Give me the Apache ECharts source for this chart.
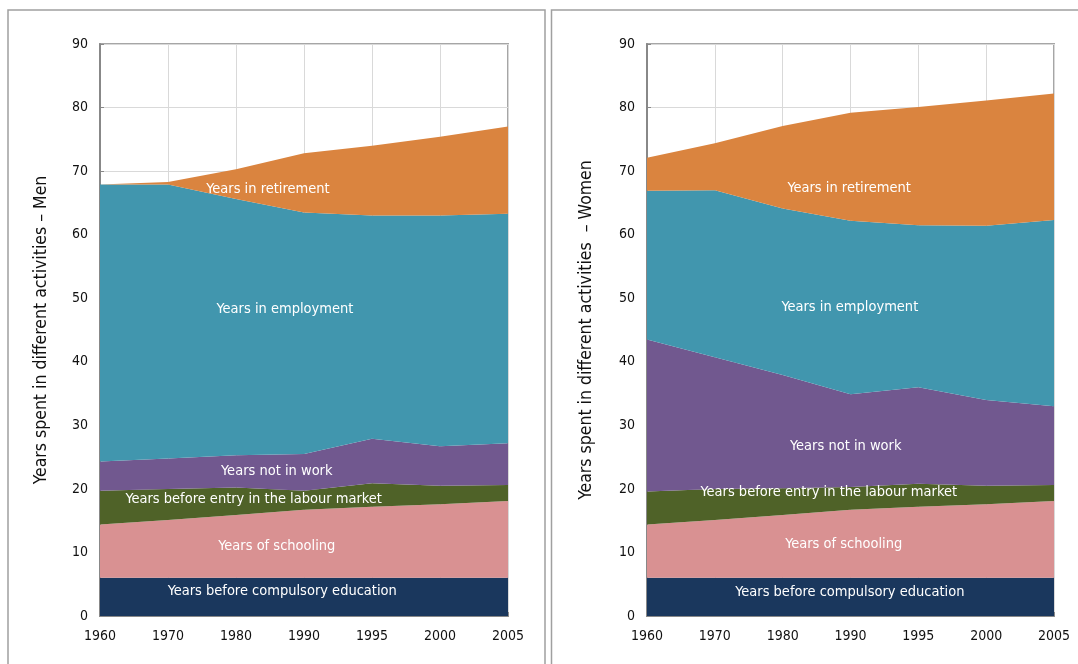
<!DOCTYPE html>
<html><head><meta charset="utf-8">
<script src="https://cdn.jsdelivr.net/npm/echarts@6/dist/echarts.min.js"></script>
<style>html,body{margin:0;padding:0;background:#fff}#c{width:1078px;height:664px}</style>
</head><body><div id="c"></div>
<script>
// ---- data ----
const years = ['1960','1970','1980','1990','1995','2000','2005'];
const seriesNames = ['Years before compulsory education','Years of schooling','Years before entry in the labour market','Years not in work','Years in employment','Years in retirement'];
const colors = ['#1a375d','#d99192','#4f6228','#71588f','#4196ae','#da843f'];
// Men: thickness of each layer (years)
const menCompulsory = [6,6,6,6,6,6,6];
const menSchooling  = [8.4,9.1,9.9,10.7,11.2,11.6,12.1];
const menPreEntry   = [5.3,4.9,4.3,3.0,3.7,2.9,2.5];
const menNotInWork  = [4.6,4.8,5.1,5.8,7.0,6.2,6.6];
const menEmployment = [43.6,43.1,40.3,38.0,35.1,36.3,36.1];
const menRetirement = [0,0.4,4.7,9.3,11.0,12.4,13.7];
// Women
const womenCompulsory = [6,6,6,6,6,6,6];
const womenSchooling  = [8.4,9.1,9.9,10.7,11.2,11.6,12.1];
const womenPreEntry   = [5.2,4.9,4.2,3.6,3.6,2.9,2.5];
const womenNotInWork  = [23.9,20.7,17.8,14.6,15.2,13.5,12.4];
const womenEmployment = [23.4,26.3,26.2,27.3,25.5,27.4,29.3];
const womenRetirement = [5.2,7.4,13.0,17.0,18.6,19.7,19.9];
const yTicks = {min:0,max:90,interval:10};
const titles = ['Years spent in different activities – Men','Years spent in different activities  – Women'];
// label anchors: [text, category position, value]
const menLabels = [
  ['Years in retirement',2.47,67.2],['Years in employment',2.72,48.3],['Years not in work',2.6,22.8],
  ['Years before entry in the labour market',2.26,18.4],['Years of schooling',2.6,10.9],['Years before compulsory education',2.68,3.9]];
const womenLabels = [
  ['Years in retirement',2.98,67.3],['Years in employment',2.99,48.6],['Years not in work',2.93,26.7],
  ['Years before entry in the labour market',2.68,19.4],['Years of schooling',2.9,11.3],['Years before compulsory education',2.99,3.8]];

const NARROW = '"DejaVu Sans Condensed","Liberation Sans Narrow","Arial Narrow",sans-serif';
const chart = echarts.init(document.getElementById('c'), null, {renderer:'canvas'});
const grids = [
  {left:100, top:44, width:408, height:572},
  {left:647, top:44, width:407, height:572}
];
function xAxis(i){return {type:'category',gridIndex:i,data:years,boundaryGap:false,
  axisLine:{show:true,lineStyle:{color:'#888',width:2}},
  axisTick:{show:true,inside:true,length:4,lineStyle:{color:'#888'}},
  axisLabel:{color:'#111',fontFamily:NARROW,fontSize:14,margin:13},
  splitLine:{show:true,lineStyle:{color:'#d9d9d9',width:1}}};}
function yAxis(i){return {type:'value',gridIndex:i,min:yTicks.min,max:yTicks.max,interval:yTicks.interval,
  name:titles[i],nameLocation:'middle',nameGap:i===0?50:52,
  nameTextStyle:{color:'#111',fontFamily:NARROW,fontSize:17.5},
  axisLine:{show:true,lineStyle:{color:'#888',width:2}},
  axisTick:{show:true,inside:true,length:4,lineStyle:{color:'#888'}},
  axisLabel:{color:'#111',fontFamily:NARROW,fontSize:14,margin:12},
  splitLine:{show:true,lineStyle:{color:'#d9d9d9',width:1}}};}
function stack(i, arrs){
  return arrs.map((d,k)=>({type:'line',name:seriesNames[k],xAxisIndex:i,yAxisIndex:i,stack:'s'+i,data:d,
    symbol:'none',smooth:false,lineStyle:{width:0},areaStyle:{color:colors[k],opacity:1},z:3}));
}
const series = stack(0,[menCompulsory,menSchooling,menPreEntry,menNotInWork,menEmployment,menRetirement])
  .concat(stack(1,[womenCompulsory,womenSchooling,womenPreEntry,womenNotInWork,womenEmployment,womenRetirement]));
const option = {
  animation:false,
  grid:grids.map(g=>Object.assign({show:true,borderColor:'#a6a6a6',borderWidth:2,backgroundColor:'transparent'},g)),
  xAxis:[xAxis(0),xAxis(1)], yAxis:[yAxis(0),yAxis(1)],
  series:series
};
chart.setOption(option);
function pos(gi, cat, val){
  const a = Math.floor(cat), b = Math.min(a+1, years.length-1), t = cat-a;
  const pa = chart.convertToPixel({gridIndex:gi},[a,val]);
  const pb = chart.convertToPixel({gridIndex:gi},[b,val]);
  return [pa[0]+(pb[0]-pa[0])*t, pa[1]];
}
const graphics = [
  {type:'rect',shape:{x:8,y:10,width:537,height:700},style:{fill:'none',stroke:'#a0a0a0',lineWidth:1.5},z:0,silent:true},
  {type:'rect',shape:{x:551.5,y:10,width:600,height:700},style:{fill:'none',stroke:'#a0a0a0',lineWidth:1.5},z:0,silent:true}
];
[[0,menLabels],[1,womenLabels]].forEach(([gi,labs])=>{
  labs.forEach(l=>{
    const p = pos(gi,l[1],l[2]);
    graphics.push({type:'text',x:p[0],y:p[1],z:100,silent:true,
      style:{text:l[0],fill:'#ffffff',font:'14.5px '+NARROW,align:'center',verticalAlign:'middle'}});
  });
});
chart.setOption({graphic:graphics});
</script></body></html>
